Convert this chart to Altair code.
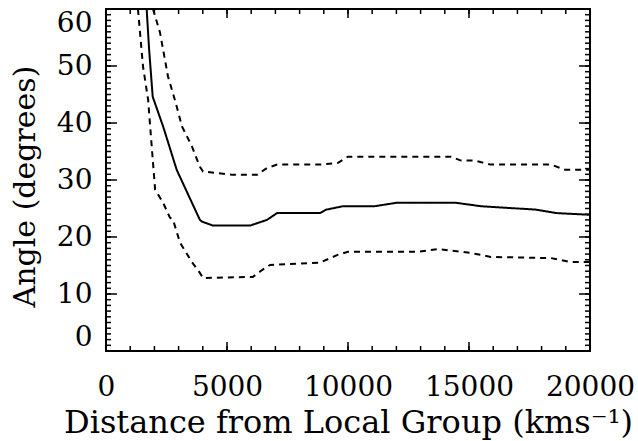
import altair as alt
import pandas as pd

# ---- data ----
mean_x = [1680, 1780, 1930, 2360, 2920, 3880, 3970, 4420, 5950, 6650, 7070, 8840, 9100, 9800, 11100, 12000, 14460, 15500, 17770, 18600, 20000]
mean_y = [60, 53, 44.6, 39.4, 31.8, 23.0, 22.7, 22.0, 22.0, 23.0, 24.2, 24.2, 24.8, 25.4, 25.4, 26.0, 26.0, 25.4, 24.8, 24.2, 23.9]

upper_x = [1940, 2230, 2560, 2850, 3140, 3550, 3880, 4010, 5250, 6240, 6650, 7070, 8840, 9590, 10000, 14260, 14670, 15250, 15900, 18390, 18970, 19500, 20000]
upper_y = [60, 55.9, 48.2, 44.0, 39.4, 35.9, 32.3, 31.5, 30.9, 30.9, 32.1, 32.7, 32.7, 33.0, 34.1, 34.1, 33.4, 33.4, 32.7, 32.7, 31.8, 31.8, 31.8]

lower_x = [1320, 1530, 1740, 1900, 2030, 2360, 2640, 2770, 3060, 3550, 3880, 4010, 6070, 6450, 6780, 8840, 9590, 10000, 12900, 13720, 14260, 15080, 15900, 18390, 19210, 20000]
lower_y = [60, 49.9, 44.1, 35.3, 28.3, 26.0, 23.4, 23.0, 19.0, 15.6, 13.7, 12.8, 13.0, 14.2, 15.1, 15.5, 16.9, 17.4, 17.4, 17.9, 17.6, 17.2, 16.5, 16.3, 15.6, 15.6]

series_names = ["mean", "upper", "lower"]
x_major = [0, 5000, 10000, 15000, 20000]
x_minor = list(range(0, 20001, 1000))
y_major = [0, 10, 20, 30, 40, 50, 60]
y_minor = list(range(0, 61, 1))

x_title = "Distance from Local Group (kms⁻¹)"
y_title = "Angle (degrees)"

rows = []
for name, xs_, ys_ in zip(series_names, [mean_x, upper_x, lower_x], [mean_y, upper_y, lower_y]):
    for a, b in zip(xs_, ys_):
        rows.append({"x": a, "y": b, "s": name})
df = pd.DataFrame(rows)

W, H = 484, 342
FONT = "DejaVu Serif"

xs = alt.Scale(domain=[0, 20000], nice=False, zero=False)
ys = alt.Scale(domain=[0, 60], nice=False, zero=False)

lines = alt.Chart(df).mark_line(color="black", strokeWidth=2, clip=True).encode(
    x=alt.X("x:Q", scale=xs, axis=alt.Axis(
        orient="bottom", values=x_major, ticks=False, domain=False, grid=False,
        labelFlush=False, labelOverlap=False, format="d",
        labelFont=FONT, labelFontSize=28, labelColor="black", labelPadding=22,
        title=x_title, titleFont=FONT, titleFontSize=32, titleFontWeight="normal",
        titleColor="black", titleX=242, titleY=81, titleAlign="center",
        titleBaseline="alphabetic")),
    y=alt.Y("y:Q", scale=ys, axis=alt.Axis(
        orient="left", values=y_major, ticks=False, domain=False, grid=False,
        labelFlush=True, labelOverlap=False, format="d",
        labelFont=FONT, labelFontSize=28, labelColor="black", labelPadding=14,
        title=y_title, titleFont=FONT, titleFontSize=30, titleFontWeight="normal",
        titleColor="black", titleX=-72, titleY=177, titleAlign="center",
        titleBaseline="alphabetic")),
    strokeDash=alt.StrokeDash("s:N", scale=alt.Scale(domain=series_names,
                                                      range=[[1, 0], [6, 5], [6, 5]]), legend=None),
)


def xticks(vals, y0, y1):
    return alt.Chart(pd.DataFrame({"v": vals})).mark_rule(color="black", strokeWidth=1.5).encode(
        x=alt.X("v:Q", scale=xs, axis=None), y=alt.value(y0), y2=alt.value(y1))


def yticks(vals, x0, x1):
    return alt.Chart(pd.DataFrame({"v": vals})).mark_rule(color="black", strokeWidth=1.5).encode(
        y=alt.Y("v:Q", scale=ys, axis=None), x=alt.value(x0), x2=alt.value(x1))


tick_layers = [
    xticks(x_major, H, H - 9), xticks(x_minor, H, H - 5),      # bottom edge, inward
    xticks(x_major, 0, 9), xticks(x_minor, 0, 5),              # top edge, inward
    yticks(y_major, 0, 11), yticks(y_minor, 0, 5),             # left edge, inward
    yticks(y_major, W, W - 11), yticks(y_minor, W, W - 5),     # right edge, inward
]

chart = alt.layer(lines, *tick_layers).resolve_axis(
    x="independent", y="independent"
).properties(
    width=W, height=H,
    autosize=alt.AutoSizeParams(type="none"),
    padding={"left": 106, "top": 9, "right": 48, "bottom": 90},
    background="white",
).configure_view(stroke="black", strokeWidth=2)

chart.save("out.html", embed_options={"renderer": "svg", "actions": False})
